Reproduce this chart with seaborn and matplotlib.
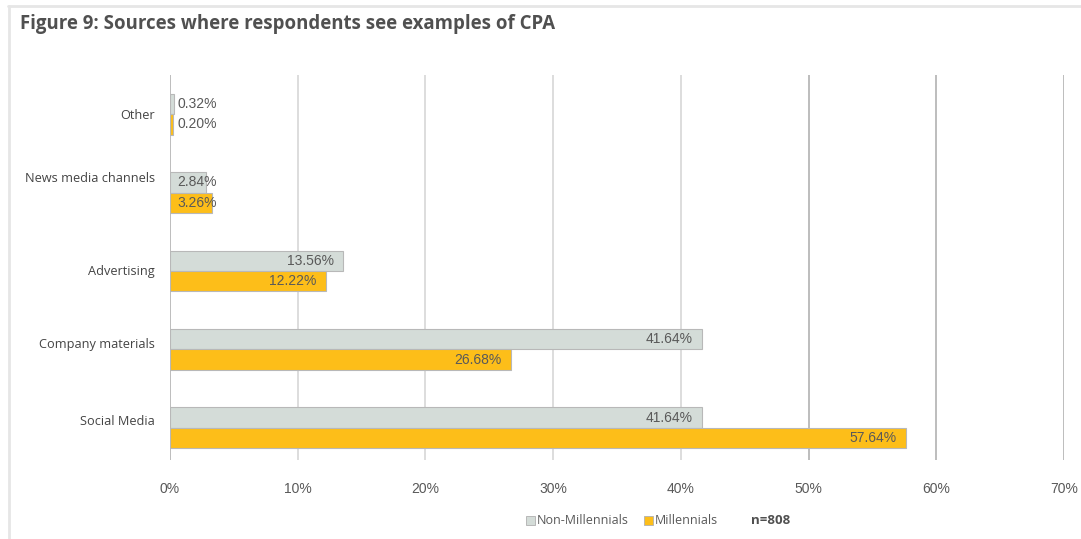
import matplotlib
matplotlib.use("Agg")
import matplotlib.pyplot as plt
import matplotlib.transforms as mtransforms
from matplotlib.lines import Line2D
from matplotlib.patches import Rectangle
import pandas as pd
import seaborn as sns

# Survey results (percent of respondents)
categories = ["Other", "News media channels", "Advertising", "Company materials", "Social Media"]
non_millennials = [0.32, 2.84, 13.56, 41.64, 41.64]
millennials = [0.20, 3.26, 12.22, 26.68, 57.64]
groups = ["Non-Millennials", "Millennials"]
x_ticks = [0, 10, 20, 30, 40, 50, 60, 70]
x_tick_labels = ["0%", "10%", "20%", "30%", "40%", "50%", "60%", "70%"]
sample_note = "n=808"
title = "Figure 9: Sources where respondents see examples of CPA"

GREY = "#d4dcd8"
GOLD = "#fdbe19"
TEXT = "#595959"

df = pd.DataFrame({
    "Source": categories * 2,
    "Group": [groups[0]] * len(categories) + [groups[1]] * len(categories),
    "Value": non_millennials + millennials,
})

sns.set_theme(style="white")
plt.rcParams["font.family"] = ["Open Sans", "DejaVu Sans"]

fig = plt.figure(figsize=(10.81, 5.39), dpi=100)
ax = fig.add_axes([170 / 1081, 1 - 460 / 539, (1064 - 170) / 1081, (460 - 75) / 539])

sns.barplot(
    data=df, y="Source", x="Value", hue="Group", order=categories,
    hue_order=groups, palette=[GREY, GOLD], saturation=1, orient="h", width=0.52,
    edgecolor="#b8b8b8", linewidth=0.8, ax=ax, legend=False, zorder=3,
)

ax.set_xlim(0, 70)
ax.set_ylim(4.41, -0.5)
ax.set_xlabel("")
ax.set_ylabel("")
for s in ax.spines.values():
    s.set_visible(False)

# vertical gridlines
for t in x_ticks:
    col = "#dadada" if 10 <= t <= 40 else "#b8b8b8"
    ax.axvline(t, color=col, linewidth=1.3, zorder=1)

ax.set_xticks(x_ticks)
ax.set_xticklabels(x_tick_labels, fontfamily="Liberation Sans", fontsize=10, color=TEXT)
ax.tick_params(axis="x", length=0, pad=16)
ax.tick_params(axis="y", length=0, pad=11, labelsize=9.2, labelcolor="#444444")

# category labels sit slightly above their bar pairs (points, upward)
label_lift = [0, 11, 0.5, 4.5, 6]
for lab, lift in zip(ax.get_yticklabels(), label_lift):
    lab.set_transform(lab.get_transform() +
                      mtransforms.ScaledTranslation(0, lift / 72, fig.dpi_scale_trans))

# value labels
for cont in ax.containers:
    for rect in cont:
        v = rect.get_width()
        yc = rect.get_y() + rect.get_height() / 2
        if v < 5:
            ax.text(0.6, yc, f"{v:.2f}%", ha="left", va="center",
                    fontfamily="Liberation Sans", fontsize=10, color=TEXT, zorder=4)
        else:
            ax.text(v - 0.75, yc, f"{v:.2f}%", ha="right", va="center",
                    fontfamily="Liberation Sans", fontsize=10, color=TEXT, zorder=4)

fig.text(20 / 1081, 1 - 24 / 539, title, fontsize=13.4, fontweight="bold",
         color="#505050", ha="left", va="center")

# legend row
handles = [Rectangle((0, 0), 1, 1, facecolor=GREY, edgecolor="#b0b0b0", linewidth=0.6),
           Rectangle((0, 0), 1, 1, facecolor=GOLD, edgecolor="#b0b0b0", linewidth=0.6)]
leg = fig.legend(handles, groups, loc="center", bbox_to_anchor=(622 / 1081, 1 - 521 / 539),
                 ncol=2, frameon=False, fontsize=9, handlelength=0.7, handleheight=0.7,
                 handletextpad=0.2, columnspacing=1.2, labelcolor=TEXT)
fig.text(771 / 1081, 1 - 521 / 539, sample_note, fontsize=9.5, fontweight="bold",
         color="#505050", ha="center", va="center")

# panel border
fig.add_artist(Line2D([8 / 1081, 1], [1 - 5.5 / 539, 1 - 5.5 / 539], color="#e6e6e6", linewidth=2))
fig.add_artist(Line2D([8.5 / 1081, 8.5 / 1081], [0, 1 - 5.5 / 539], color="#e6e6e6", linewidth=2))

fig.savefig("out.png", dpi=100)
